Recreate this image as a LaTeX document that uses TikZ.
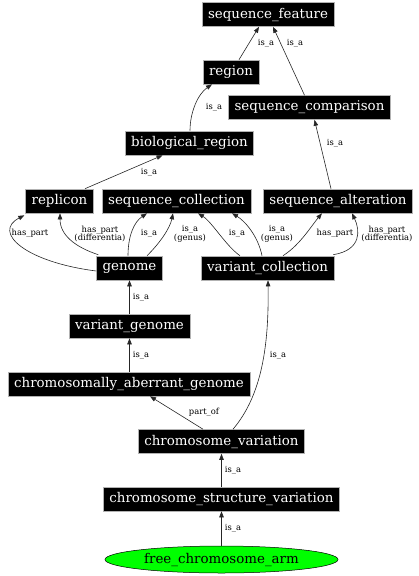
\documentclass[tikz,border=0pt]{standalone}
\usepackage{fontspec}
\setmainfont{DejaVu Serif}
\usetikzlibrary{arrows.meta,shapes.geometric}
\begin{document}
\begin{tikzpicture}[x=1pt,y=-1pt,
  box/.style={rectangle,fill=black,draw=gray!60,line width=0.6pt,text=white,
    font=\fontsize{13.4}{15}\selectfont,minimum height=24pt,inner xsep=6pt,inner ysep=0pt},
  oval/.style={ellipse,fill=green,draw=black,line width=0.5pt,
    font=\fontsize{13.4}{15}\selectfont,minimum width=233pt,minimum height=27pt,inner sep=0pt},
  edge/.style={draw=black!85,line width=0.6pt,-{Triangle[length=6pt,width=4.5pt]}},
  lbl/.style={font=\fontsize{8.4}{8.8}\selectfont,align=center,inner sep=0pt}]
\useasboundingbox (0,0) rectangle (418,576);
% nodes
\node[box] (sf) at (268,14.5) {sequence\_feature};
\node[box] (rg) at (231,72) {region};
\node[box] (sc) at (309.5,107.5) {sequence\_comparison};
\node[box] (br) at (189.5,143) {biological\_region};
\node[box] (rp) at (59.5,201) {replicon};
\node[box] (scl) at (176.5,201) {sequence\_collection};
\node[box] (sa) at (338,201) {sequence\_alteration};
\node[box] (gn) at (129.5,268) {genome};
\node[box] (vc) at (267.5,268) {variant\_collection};
\node[box] (vg) at (129.5,326) {variant\_genome};
\node[box] (cag) at (129,384) {chromosomally\_aberrant\_genome};
\node[box] (cv) at (221.5,441.5) {chromosome\_variation};
\node[box] (csv) at (221.5,499) {chromosome\_structure\_variation};
\node[oval] (fca) at (221.5,559.5) {free\_chromosome\_arm};
% edges
\draw[edge] ([xshift=8]rg.north) -- ([xshift=-9]sf.south);
\draw[edge] ([xshift=-5]sc.north) -- ([xshift=5]sf.south);
\draw[edge] ([xshift=0.5]br.north) .. controls (190,112) and (198,94) .. ([xshift=-19]rg.south);
\draw[edge] ([xshift=25.5]rp.north) -- ([xshift=-27]br.south);
\draw[edge] ([xshift=-7]sa.north) -- ([xshift=5]sc.south);
\draw[edge] ([yshift=-3]gn.west) .. controls (25,262) and (-8,232) .. ([xshift=-1,yshift=-2]rp.south west);
\draw[edge] ([xshift=2,yshift=1]gn.north west) .. controls (75,247) and (60,235) .. ([xshift=0.5]rp.south);
\draw[edge] ([xshift=-1.5]gn.north) .. controls (128,236) and (134,222) .. ([xshift=-29.5]scl.south);
\draw[edge] ([xshift=17.5]gn.north) .. controls (160,243) and (170,228) .. ([xshift=-3.5]scl.south);
\draw[edge] ([xshift=-27.5]vc.north) .. controls (226,246) and (212,222) .. ([xshift=21.5]scl.south);
\draw[edge] ([xshift=-5.5]vc.north) .. controls (258,236) and (245,221) .. ([xshift=55.5]scl.south);
\draw[edge] ([xshift=15.5]vc.north) .. controls (300,245) and (312,225) .. ([xshift=-16]sa.south);
\draw[edge] ([xshift=-1,yshift=1]vc.north east) .. controls (362,250) and (360,230) .. ([xshift=14]sa.south);
\draw[edge] (vg.north) -- (gn.south);
\draw[edge] ([xshift=0.5]cag.north) -- (vg.south);
\draw[edge] ([xshift=-18.5]cv.north) -- ([xshift=21]cag.south);
\draw[edge] ([xshift=11.5]cv.north) .. controls (262,395) and (269,345) .. ([xshift=0.5]vc.south);
\draw[edge] (csv.north) -- (cv.south);
\draw[edge] (fca.north) -- (csv.south);
% labels
\node[lbl] at (266,43) {is\_a};
\node[lbl] at (295,43) {is\_a};
\node[lbl] at (214,107) {is\_a};
\node[lbl] at (149,172) {is\_a};
\node[lbl] at (335,143) {is\_a};
\node[lbl] at (30,233) {has\_part};
\node[lbl] at (100,234) {has\_part\\(differentia)};
\node[lbl] at (149,233) {is\_a};
\node[lbl] at (190,234) {is\_a\\(genus)};
\node[lbl] at (237,233) {is\_a};
\node[lbl] at (277,234) {is\_a\\(genus)};
\node[lbl] at (335,233) {has\_part};
\node[lbl] at (387,234) {has\_part\\(differentia)};
\node[lbl] at (141,297) {is\_a};
\node[lbl] at (141,355) {is\_a};
\node[lbl] at (204,412) {part\_of};
\node[lbl] at (278,355) {is\_a};
\node[lbl] at (233,470) {is\_a};
\node[lbl] at (233,528) {is\_a};
\end{tikzpicture}
\end{document}
